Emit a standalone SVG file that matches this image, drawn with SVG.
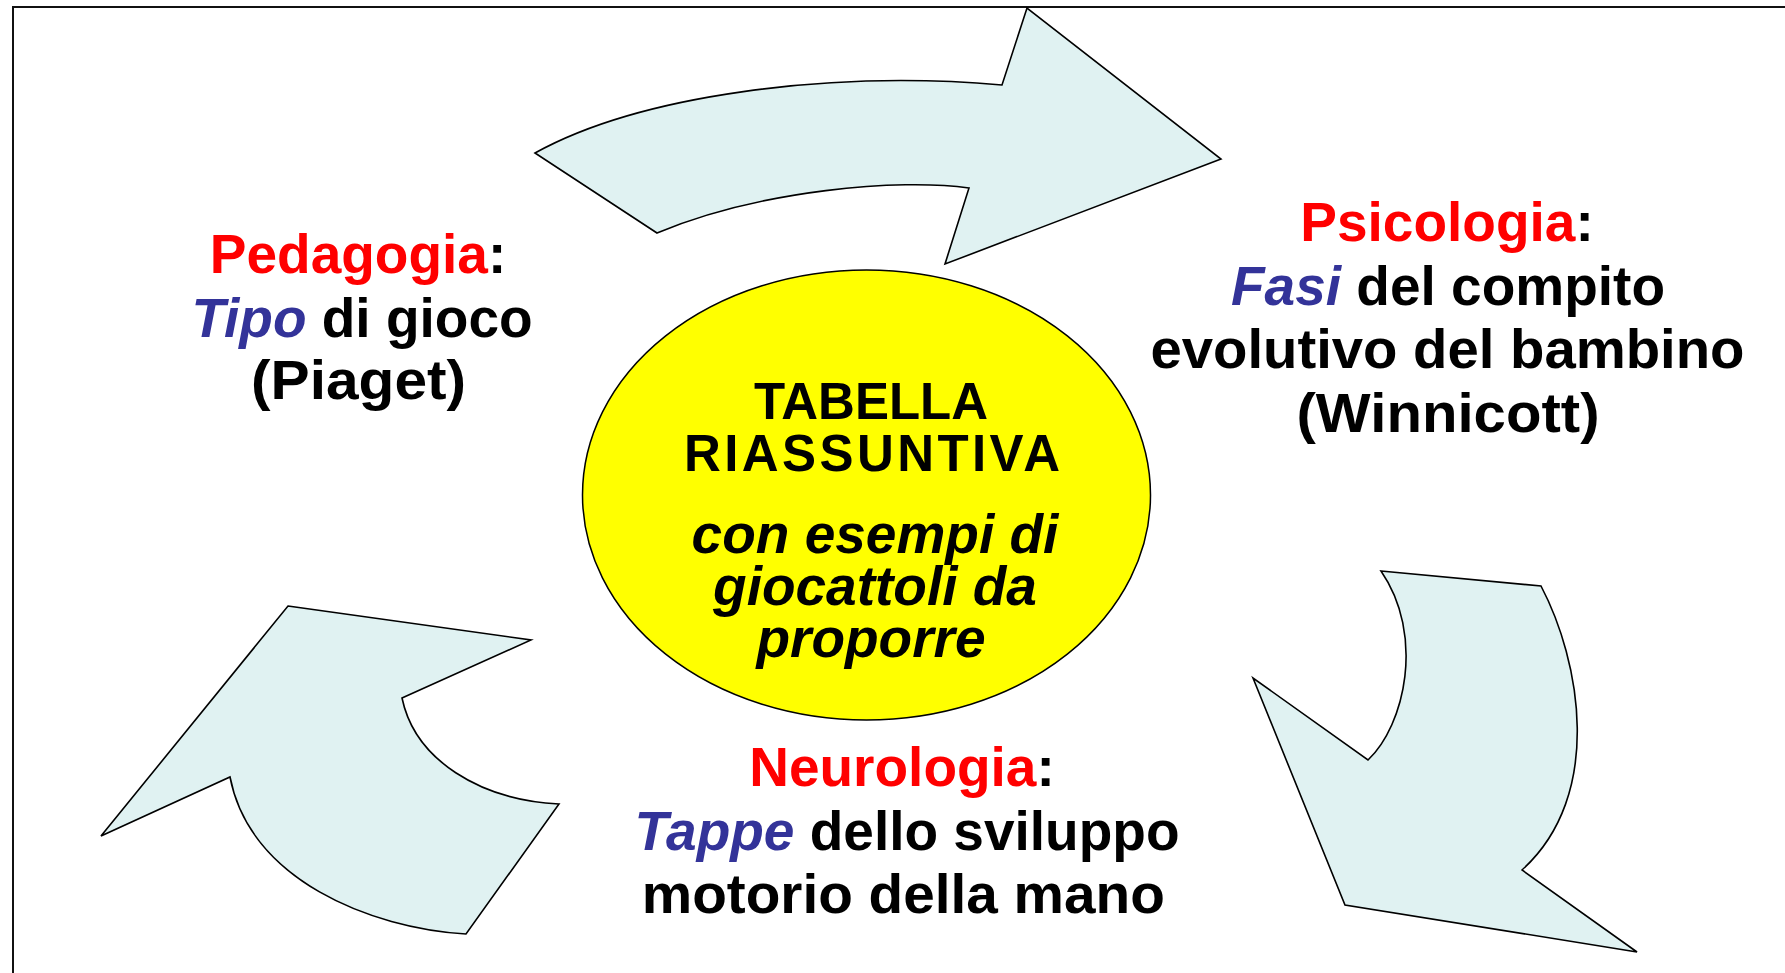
<svg xmlns="http://www.w3.org/2000/svg" width="1785" height="973" viewBox="0 0 1785 973">
<style>
.arrow{fill:#E0F2F2;stroke:#000;stroke-width:1.6;stroke-linejoin:miter}
.t{font-family:"Liberation Sans",Arial,sans-serif;font-weight:bold;font-size:55px;text-anchor:middle;fill:#000}
.red{fill:#FF0000}
.blue{fill:#333399;font-style:italic}
.c{font-family:"Liberation Sans",Arial,sans-serif;font-weight:bold;text-anchor:middle;fill:#000}
</style>
<rect width="1785" height="973" fill="#fff"/>
<path d="M13,973 V7 H1785" fill="none" stroke="#111" stroke-width="2"/>
<g id="connectors">
<path class="arrow" d="M535,153 C640,95 830,70 1002,85 L1027,8 L1221,159 L945,264 L969,188 C900,178 760,190 657,233 Z"/>
<path class="arrow" d="M1381,571 L1541,586 C1580,660 1605,795 1522,870 L1637,952 L1345,905 L1253,678 L1368,760 C1405,725 1425,635 1381,571 Z"/>
<path class="arrow" d="M288,606 L531,640 L402,698 C415,760 480,800 559,804 L466,934 C370,928 250,880 230,777 L101,836 Z"/>
</g>
<g id="center">
<ellipse cx="866.5" cy="495" rx="284" ry="225" fill="#FFFF00" stroke="#000" stroke-width="1.5"/>
<text class="c" x="871" y="419" font-size="51">TABELLA</text>
<text class="c" x="872" y="471" font-size="51" textLength="376" lengthAdjust="spacing">RIASSUNTIVA</text>
<text class="c" x="875" y="553" font-size="55" font-style="italic">con esempi di</text>
<text class="c" x="875" y="605" font-size="55" font-style="italic">giocattoli da</text>
<text class="c" x="871" y="657" font-size="55" font-style="italic">proporre</text>
</g>
<g id="pedagogia">
<text class="t" x="358" y="273"><tspan class="red">Pedagogia</tspan>:</text>
<text class="t" x="362" y="337"><tspan class="blue">Tipo</tspan> di gioco</text>
<text class="t" x="358.6" y="399" textLength="215" lengthAdjust="spacingAndGlyphs">(Piaget)</text>
</g>
<g id="psicologia">
<text class="t" x="1447" y="241"><tspan class="red">Psicologia</tspan>:</text>
<text class="t" x="1448" y="305"><tspan class="blue">Fasi</tspan> del compito</text>
<text class="t" x="1447.5" y="368" textLength="594" lengthAdjust="spacingAndGlyphs">evolutivo del bambino</text>
<text class="t" x="1448" y="432" textLength="303" lengthAdjust="spacingAndGlyphs">(Winnicott)</text>
</g>
<g id="neurologia">
<text class="t" x="902" y="786"><tspan class="red">Neurologia</tspan>:</text>
<text class="t" x="907" y="850"><tspan class="blue">Tappe</tspan> dello sviluppo</text>
<text class="t" x="903.3" y="913" textLength="523" lengthAdjust="spacingAndGlyphs">motorio della mano</text>
</g>
</svg>
